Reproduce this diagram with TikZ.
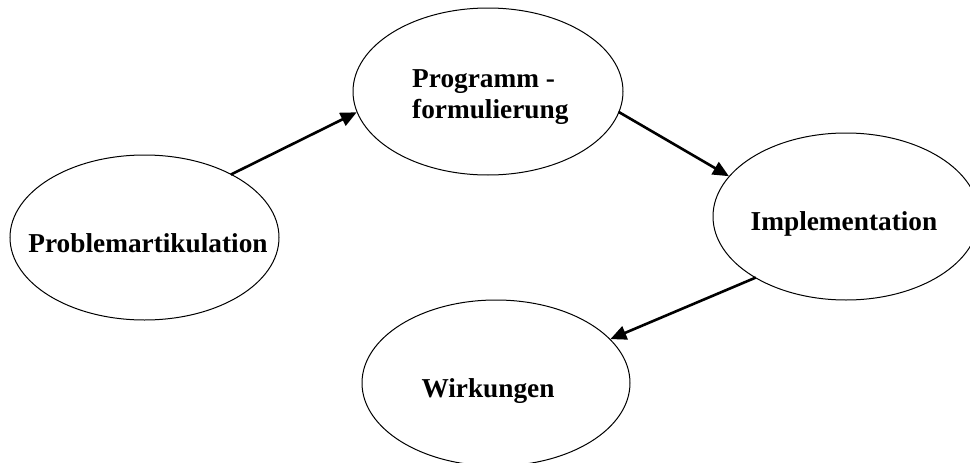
\documentclass[tikz,border=0pt]{standalone}
\usepackage{fontspec}
\setmainfont{Liberation Serif}
\usetikzlibrary{shapes.geometric,arrows.meta}
\begin{document}
\begin{tikzpicture}[x=1pt,y=-1pt,
  phase/.style={ellipse,draw,line width=1pt,inner sep=0pt},
  caption/.style={font=\fontsize{27.3}{31}\selectfont\bfseries,inner sep=0pt},
  flow/.style={line width=2.6pt,-{Triangle[length=16pt,width=14pt]},shorten <=-1pt}]
  \useasboundingbox (0,0) rectangle (970,463);
  \begin{scope}
    \clip (0,0) rectangle (970,463);
    % Phases of the policy cycle
    \node[phase,minimum width=269pt,minimum height=165pt] (prob) at (144.5,237.5) {};
    \node[phase,minimum width=270pt,minimum height=167pt] (prog) at (488,91.5) {};
    \node[phase,minimum width=266pt,minimum height=167pt] (impl) at (846,216.5) {};
    \node[phase,minimum width=268pt,minimum height=166pt] (wirk) at (496,383) {};
  \end{scope}
  % Labels
  \node[caption,anchor=base] (tprob) at (148,252) {Problemartikulation};
  \node[caption,anchor=base west] (tprog1) at (412,87) {Programm -};
  \node[caption,anchor=base west] (tprog2) at (412,118) {formulierung};
  \node[caption,anchor=base] (timpl) at (844,230) {Implementation};
  \node[caption,anchor=base] (twirk) at (488,397) {Wirkungen};
  % Transitions
  \draw[flow] (prob.36) -- (prog.189);
  \draw[flow] (prog.351) -- (impl.161);
  \draw[flow] (impl.214) -- (wirk.21);
\end{tikzpicture}
\end{document}
